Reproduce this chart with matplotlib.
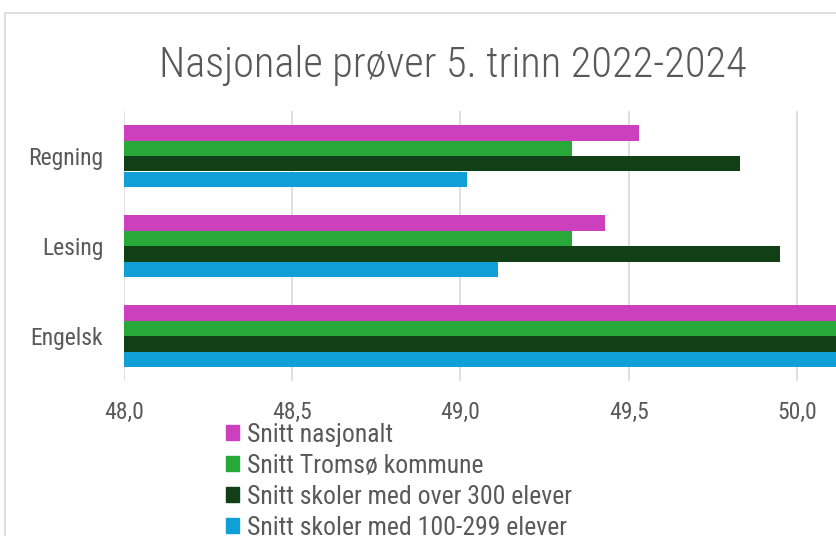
import matplotlib
matplotlib.use("Agg")
import matplotlib.pyplot as plt
from matplotlib import font_manager
from matplotlib.patches import Patch, Rectangle

categories = ["Engelsk", "Lesing", "Regning"]
series_names = ["Snitt nasjonalt", "Snitt Tromsø kommune",
                "Snitt skoler med over 300 elever", "Snitt skoler med 100-299 elever"]
nasjonalt = [50.4, 49.43, 49.53]
tromso = [50.3, 49.33, 49.33]
over300 = [50.6, 49.95, 49.83]
mellom100_299 = [50.3, 49.11, 49.02]
xticks = [48.0, 48.5, 49.0, 49.5, 50.0]
xtick_labels = ["48,0", "48,5", "49,0", "49,5", "50,0"]
colors = ["#CC3FBD", "#29A83A", "#114017", "#109FD7"]

avail = {f.name for f in font_manager.fontManager.ttflist}
fam = None
for c in ["Roboto Condensed", "Liberation Sans Narrow", "DejaVu Sans Condensed", "Open Sans Condensed", "DejaVu Sans"]:
    if c in avail:
        fam = c
        break
plt.rcParams["font.family"] = [fam, "DejaVu Sans"]
txt = "#595959"

fig = plt.figure(figsize=(8.37, 5.36), dpi=100)
fig.patches.append(Rectangle((5/837, -0.1), 1.2, (536-13)/536 + 0.1, transform=fig.transFigure,
                             fill=False, edgecolor="#d9d9d9", lw=1.2))
ax = fig.add_axes([124/837, 1-381/536, 1-124/837, (381-111)/536])

h = 15.5/90
data = [nasjonalt, tromso, over300, mellom100_299]
offsets = [1.5*h, 0.5*h, -0.5*h, -1.5*h]
for vals, off, col, name in zip(data, offsets, colors, series_names):
    ax.barh([i + off for i in range(len(categories))], vals, height=h, color=col,
            left=0, label=name, zorder=3)

ax.set_xlim(48.0, 48.0 + (837-124)/336.5)
ax.set_ylim(-0.5, 2.5)
ax.set_xticks(xticks)
ax.set_xticklabels(xtick_labels)
ax.set_yticks(range(len(categories)))
ax.set_yticklabels(categories)
ax.tick_params(axis="both", length=0, labelsize=17, colors=txt)
ax.tick_params(axis="x", pad=14.5)
ax.tick_params(axis="y", pad=15)
for s in ax.spines.values():
    s.set_visible(False)
ax.grid(axis="x", color="#d9d9d9", lw=1.2, zorder=0)
ax.set_axisbelow(True)

fig.text(453/837, 1-65/536, "Nasjonale prøver 5. trinn 2022-2024", ha="center", va="center",
         fontsize=30.5, color=txt, fontweight="light")

handles = [Patch(color=c) for c in colors]
fig.legend(handles, series_names, loc="upper left", bbox_to_anchor=(226/837, 1-423/536),
           frameon=False, fontsize=18.5, labelcolor=txt, handlelength=0.52, handleheight=0.52,
           handletextpad=0.3, labelspacing=0.27, borderpad=0, borderaxespad=0)

fig.savefig("out.png", dpi=100)
